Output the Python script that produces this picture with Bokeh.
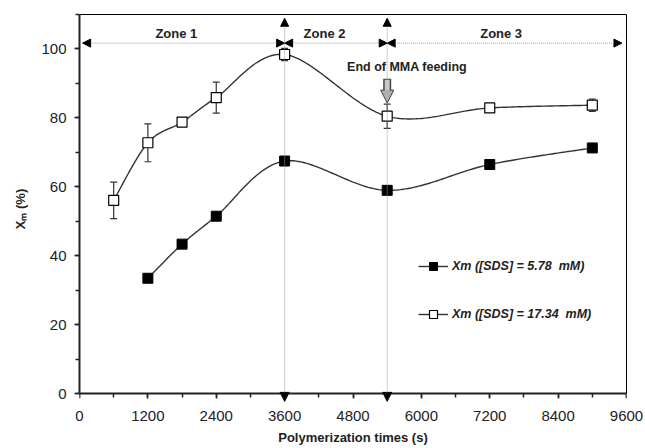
import numpy as np
from bokeh.plotting import figure
from bokeh.models import (ColumnDataSource, Whisker, TeeHead, Arrow, NormalHead, LinearAxis,
                          FixedTicker, Label, SingleIntervalTicker, Range1d, Legend, LegendItem)
from bokeh.embed import file_html
from bokeh.resources import INLINE

# ---- data ----
t_low = [1200, 1800, 2400, 3600, 5400, 7200, 9000]
xm_low = [33.5, 43.4, 51.5, 67.5, 59.0, 66.5, 71.3]
t_high = [600, 1200, 1800, 2400, 3600, 5400, 7200, 9000]
xm_high = [56.1, 72.8, 78.8, 85.9, 98.4, 80.5, 82.9, 83.7]
err_high = [5.3, 5.5, 0.0, 4.5, 1.8, 3.5, 0.0, 1.8]

zone_bounds = [3600, 5400]
zone_names = ["Zone 1", "Zone 2", "Zone 3"]
x_ticks_interval = 1200
y_ticks_interval = 20
y_max = 110
label_low = "Xm ([SDS] = 5.78  mM)"
label_high = "Xm ([SDS] = 17.34  mM)"

FONT = "Liberation Sans"
AX_COL = "#222"


def smooth(xs, ys, n=40):
    pts = np.column_stack([xs, ys]).astype(float)
    P = np.vstack([pts[0], pts, pts[-1]])
    out = []
    for i in range(1, len(P) - 2):
        p0, p1, p2, p3 = P[i - 1], P[i], P[i + 1], P[i + 2]
        c1 = p1 + (p2 - p0) / 6.0
        c2 = p2 - (p3 - p1) / 6.0
        t = np.linspace(0, 1, n)[:, None]
        seg = (1 - t) ** 3 * p1 + 3 * (1 - t) ** 2 * t * c1 + 3 * (1 - t) * t ** 2 * c2 + t ** 3 * p2
        out.append(seg if i == 1 else seg[1:])
    s = np.vstack(out)
    return s[:, 0], s[:, 1]


# frame extends a little below y=0 so that the arrowheads under the axis are visible
p = figure(width=645, height=448, output_backend="svg", toolbar_location=None,
           x_range=Range1d(0, 9600), y_range=Range1d(-2.82, y_max),
           min_border_left=79, min_border_right=19, min_border_top=14, min_border_bottom=45)
p.grid.visible = False
p.outline_line_color = None
p.background_fill_color = "white"

# y axis
p.yaxis.ticker = SingleIntervalTicker(interval=y_ticks_interval, num_minor_ticks=2)
p.yaxis.bounds = (0, y_max)
p.yaxis.axis_line_width = 2
p.yaxis.axis_line_color = AX_COL
p.yaxis.major_tick_line_color = AX_COL
p.yaxis.minor_tick_line_color = AX_COL
p.yaxis.major_tick_line_width = 1.5
p.yaxis.minor_tick_line_width = 1.5
p.yaxis.major_tick_in = 0
p.yaxis.major_tick_out = 5
p.yaxis.minor_tick_in = 0
p.yaxis.minor_tick_out = 4
p.yaxis.major_label_text_font = FONT
p.yaxis.major_label_text_font_size = "15px"
p.yaxis.major_label_text_color = AX_COL
p.yaxis.major_label_standoff = 8
p.yaxis.axis_label = "Xₘ (%)"
p.yaxis.axis_label_text_font = FONT
p.yaxis.axis_label_text_font_style = "bold"
p.yaxis.axis_label_text_font_size = "13px"
p.yaxis.axis_label_text_color = AX_COL
p.yaxis.axis_label_standoff = 10

# bottom axis: labels only (placed at the frame bottom)
xt = SingleIntervalTicker(interval=x_ticks_interval, num_minor_ticks=2)
p.xaxis.ticker = xt
p.xaxis.axis_line_color = None
p.xaxis.major_tick_line_color = None
p.xaxis.minor_tick_line_color = None
p.xaxis.major_tick_in = 0
p.xaxis.major_tick_out = 0
p.xaxis.minor_tick_in = 0
p.xaxis.minor_tick_out = 0
p.xaxis.major_label_text_font = FONT
p.xaxis.major_label_text_font_size = "15px"
p.xaxis.major_label_text_color = AX_COL
p.xaxis.major_label_standoff = 7
p.xaxis.axis_label = "Polymerization times (s)"
p.xaxis.axis_label_text_font = FONT
p.xaxis.axis_label_text_font_style = "bold"
p.xaxis.axis_label_text_font_size = "13px"
p.xaxis.axis_label_text_color = AX_COL
p.xaxis.axis_label_standoff = 6

# top frame border
p.add_layout(LinearAxis(ticker=FixedTicker(ticks=[]), axis_line_color="black", axis_line_width=1,
                        major_tick_line_color=None, minor_tick_line_color=None), "above")
# x axis line and ticks drawn at y = 0 (its labels are not drawn)
p.add_layout(LinearAxis(ticker=xt, fixed_location=0, axis_line_color=AX_COL, axis_line_width=2,
                        major_tick_line_color=AX_COL, minor_tick_line_color=AX_COL,
                        major_tick_line_width=1.5, minor_tick_line_width=1.5,
                        major_tick_in=5, major_tick_out=0, minor_tick_in=4, minor_tick_out=0,
                        major_label_text_font_size="1px", major_label_text_color=None,
                        major_label_standoff=0), "above")
# right frame border
p.add_layout(LinearAxis(ticker=FixedTicker(ticks=[]), axis_line_color="black", axis_line_width=1,
                        major_tick_line_color=None, minor_tick_line_color=None,
                        bounds=(0, y_max)), "right")

# ---- zone annotation arrows ----
dot_col = "#999"
head = dict(size=8, fill_color="black", line_color="black")
y_zone = 101.7
x_starts = [55] + zone_bounds
x_ends = zone_bounds + [9520]
for xs, xe in zip(x_starts, x_ends):
    p.add_layout(Arrow(x_start=xs, y_start=y_zone, x_end=xe, y_end=y_zone,
                       line_color=dot_col, line_dash="1 1", line_width=1,
                       start=NormalHead(**head), end=NormalHead(**head)))
for xb in zone_bounds:
    p.add_layout(Arrow(x_start=xb, y_start=-2.2, x_end=xb, y_end=108.9,
                       line_color=dot_col, line_dash="1 1", line_width=1,
                       start=NormalHead(size=9, fill_color="black", line_color="black"),
                       end=NormalHead(**head)))

zone_label_x = [1700, 4300, 7400]
for zx, name in zip(zone_label_x, zone_names):
    p.add_layout(Label(x=zx, y=104.4, text=name, text_align="center", text_baseline="middle",
                       text_font=FONT, text_font_style="bold", text_font_size="13px",
                       text_color=AX_COL))

p.add_layout(Label(x=5750, y=94.8, text="End of MMA feeding", text_align="center",
                   text_baseline="middle", text_font=FONT, text_font_style="bold",
                   text_font_size="12.5px", text_color=AX_COL))

# gray block arrow
p.add_layout(Arrow(x_start=zone_bounds[1], y_start=91.4, x_end=zone_bounds[1], y_end=84.3,
                   line_color="#444", line_width=8,
                   end=NormalHead(size=13, fill_color="#b0b0b0", line_color="#444", line_width=1)))
p.add_layout(Arrow(x_start=zone_bounds[1], y_start=91.1, x_end=zone_bounds[1], y_end=87.9,
                   line_color="#c8c8c8", line_width=5, end=None))

# ---- series ----
line_col = "#333"
sx, sy = smooth(t_low, xm_low)
r1l = p.line(sx, sy, line_color=line_col, line_width=1.4)
r1m = p.scatter(t_low, xm_low, marker="square", size=10, fill_color="black", line_color="black")

hx, hy = smooth(t_high, xm_high)
r2l = p.line(hx, hy, line_color=line_col, line_width=1.4)

err_src = ColumnDataSource(dict(
    x=[t for t, e in zip(t_high, err_high) if e > 0],
    up=[v + e for v, e in zip(xm_high, err_high) if e > 0],
    lo=[v - e for v, e in zip(xm_high, err_high) if e > 0]))
p.add_layout(Whisker(source=err_src, base="x", upper="up", lower="lo", dimension="height",
                     line_color="#333", line_width=1.2,
                     upper_head=TeeHead(size=7, line_color="#333", line_width=1.2),
                     lower_head=TeeHead(size=7, line_color="#333", line_width=1.2)))
r2m = p.scatter(t_high, xm_high, marker="square", size=10, fill_color="white", line_color="black",
                line_width=1.2)

legend = Legend(items=[LegendItem(label=label_low, renderers=[r1l, r1m]),
                       LegendItem(label=label_high, renderers=[r2l, r2m])],
                location=(329, 69), glyph_width=30, glyph_height=20, spacing=28,
                label_standoff=4, padding=10, margin=0,
                border_line_alpha=0, background_fill_alpha=0,
                label_text_font=FONT, label_text_font_style="bold italic",
                label_text_font_size="12.5px", label_text_color=AX_COL)
p.add_layout(legend)

open("out.html", "w").write(file_html(p, INLINE))
